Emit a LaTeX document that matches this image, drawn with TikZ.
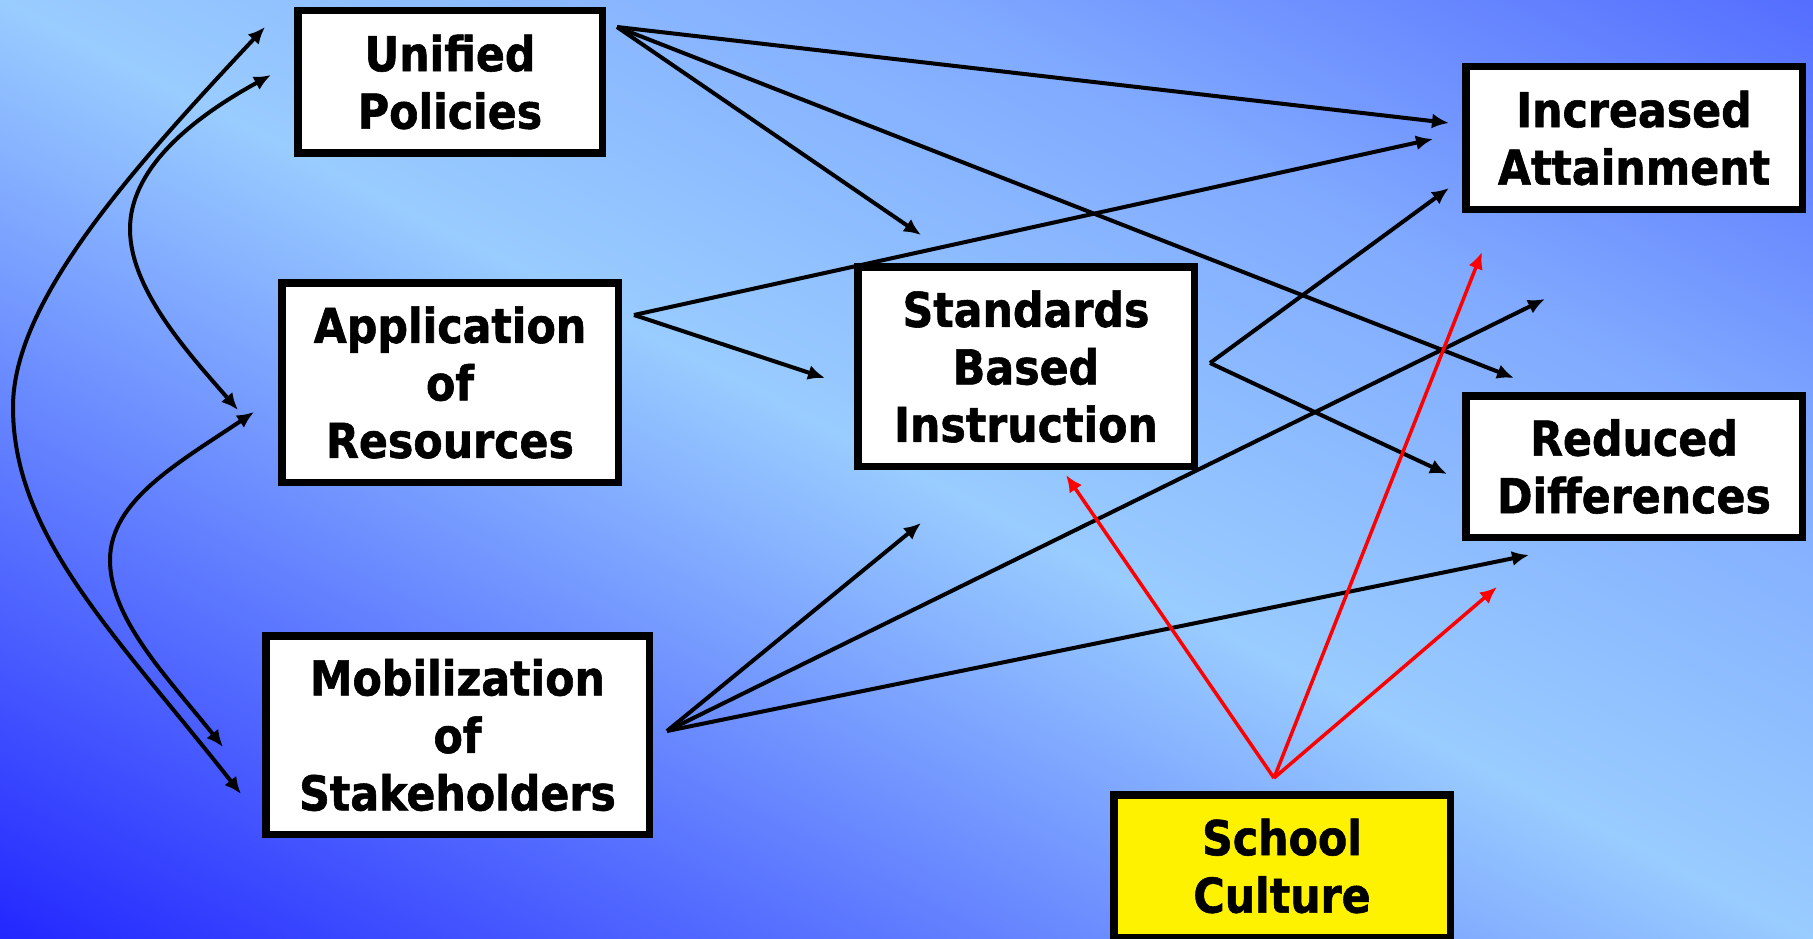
\documentclass[tikz,border=0pt]{standalone}
\usepackage{fontspec}
\setmainfont{DejaVu Sans}[FakeStretch=0.89,BoldFeatures={FakeBold=1.2}]
\usetikzlibrary{arrows.meta}

\definecolor{bgdark}{RGB}{35,40,255}
\definecolor{bglight}{RGB}{153,204,255}
\definecolor{bgtop}{RGB}{85,110,255}
\colorlet{bgupper}{bglight!65!bgtop}

\pgfdeclarehorizontalshading{slideshade}{100bp}{color(0bp)=(bgdark); color(14.6bp)=(bgdark); color(50bp)=(bglight); color(67.7bp)=(bgupper); color(85.4bp)=(bgtop); color(100bp)=(bgtop)}

\tikzset{
	factor/.style={draw,line width=7.5pt,fill=white,align=center,inner sep=0pt,
		font=\bfseries\fontsize{48}{57.5}\selectfont},
	link/.style={line width=4pt,-{Latex[length=17pt,width=15pt]}},
	twolink/.style={line width=4pt,{Latex[length=17pt,width=15pt]}-{Latex[length=17pt,width=15pt]}},
	redlink/.style={link,line width=3.5pt,red}
}

\begin{document}
\begin{tikzpicture}[x=1pt,y=-1pt]
\useasboundingbox (0,0) rectangle (1813,939);
\begin{scope}[transform canvas={xscale=1.930777}]
	\shade[shading=slideshade,shading angle=45] (0,0) rectangle (939,939);
\end{scope}

\node[factor,minimum width=304.5,minimum height=142.5] (policies) at (450,82) {Unified\\Policies};
\node[factor,minimum width=336.5,minimum height=199.5] (resources) at (450,382.5) {Application\\of\\Resources};
\node[factor,minimum width=383.5,minimum height=198.5] (stakeholders) at (457.5,735) {Mobilization\\of\\Stakeholders};
\node[factor,minimum width=336.5,minimum height=199.5] (instruction) at (1026,366.5) {Standards\\Based\\Instruction};
\node[factor,minimum width=336.5,minimum height=142.5] (attainment) at (1634,138) {Increased\\Attainment};
\node[factor,minimum width=336.5,minimum height=141.5] (differences) at (1634,466.5) {Reduced\\Differences};
\node[factor,fill=yellow,minimum width=336.5,minimum height=142.5] (culture) at (1282,866) {School\\Culture};

\coordinate (policiesOut) at (617,27);
\coordinate (resourcesOut) at (634,315);
\coordinate (stakeOut) at (667,731);
\coordinate (instructionOut) at (1210,363);
\coordinate (cultureOut) at (1274,778);

\coordinate (att1) at (1449,123);
\coordinate (att2) at (1433,139);
\coordinate (att3) at (1449,188);
\coordinate (att4) at (1482,252);
\coordinate (ins1) at (921,235);
\coordinate (ins2) at (825,378);
\coordinate (ins3) at (921,523);
\coordinate (ins4) at (1066,475);
\coordinate (dif1) at (1514,378);
\coordinate (dif2) at (1447,474);
\coordinate (dif3) at (1529,555);
\coordinate (dif4) at (1497,587);
\coordinate (gap) at (1545,299);

\foreach \t in {att1, ins1, dif1}
	\draw[link] (policiesOut) -- (\t);
\foreach \t in {att2, ins2}
	\draw[link] (resourcesOut) -- (\t);
\foreach \t in {att3, dif2}
	\draw[link] (instructionOut) -- (\t);
\foreach \t in {ins3, gap, dif3}
	\draw[link] (stakeOut) -- (\t);
\foreach \t in {ins4, att4, dif4}
	\draw[redlink] (cultureOut) -- (\t);

\coordinate (polTop) at (265,27);
\coordinate (polLow) at (271,75);
\coordinate (resTop) at (238,410);
\coordinate (resLow) at (254,412);
\coordinate (stkTop) at (223,747);
\coordinate (stkLow) at (241,794);

\draw[twolink] (polTop) .. controls (135,166) and (13,300) .. (13,407)
	.. controls (13,537) and (117,636) .. (stkLow);
\draw[twolink] (polLow) .. controls (185,122) and (130,172) .. (130,229)
	.. controls (130,290) and (190,355) .. (resTop);
\draw[twolink] (resLow) .. controls (180,462) and (110,500) .. (110,560)
	.. controls (110,620) and (170,680) .. (stkTop);
\end{tikzpicture}
\end{document}
